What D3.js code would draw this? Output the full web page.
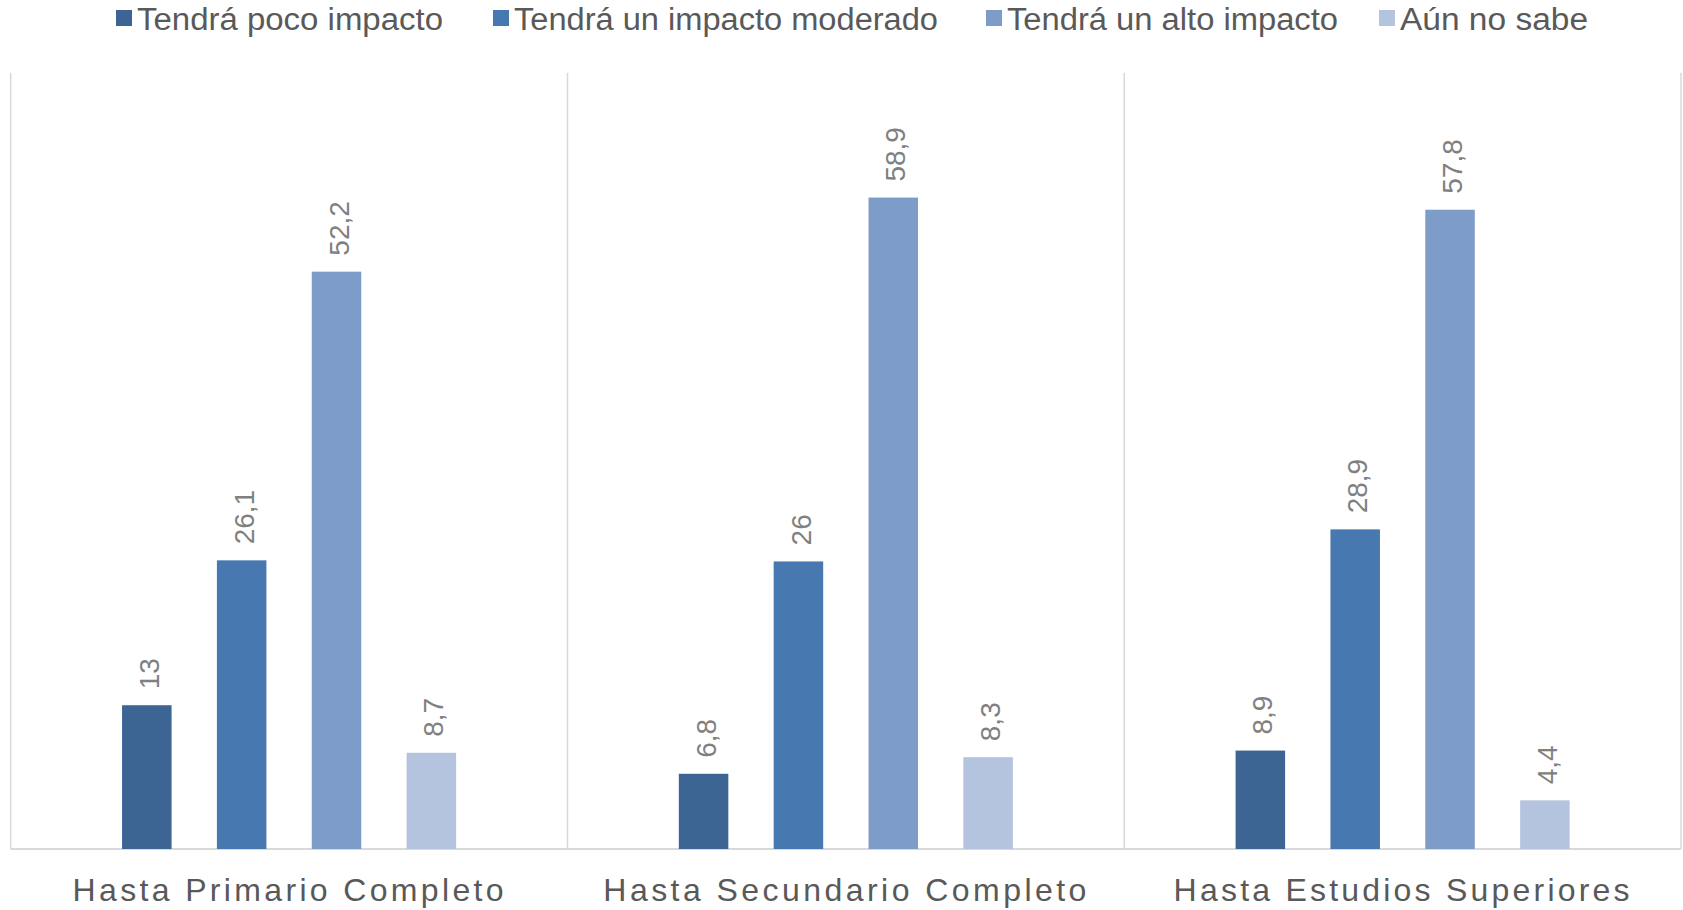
<!DOCTYPE html>
<html>
<head>
<meta charset="utf-8">
<script src="https://cdn.jsdelivr.net/npm/d3@7"></script>
<style>
  html, body { margin: 0; padding: 0; background: #ffffff; }
  svg { display: block; }
  text { font-family: "Liberation Sans", Arial, Helvetica, sans-serif; }
</style>
</head>
<body>
<svg id="chart" width="1683" height="910"></svg>
<script>
// ---- data ----
const categories = ["Hasta Primario Completo", "Hasta Secundario Completo", "Hasta Estudios Superiores"];
const seriesNames = ["Tendrá poco impacto", "Tendrá un impacto moderado", "Tendrá un alto impacto", "Aún no sabe"];
const poco      = [13, 6.8, 8.9];
const moderado  = [26.1, 26, 28.9];
const alto      = [52.2, 58.9, 57.8];
const noSabe    = [8.7, 8.3, 4.4];
const seriesValues = [poco, moderado, alto, noSabe];
const seriesColors = ["#3d6594", "#4878b0", "#7e9cc8", "#b4c3de"];
const yMax = 70;

// ---- layout ----
const svg = d3.select("#chart");
const plot = { left: 10.7, right: 1681, top: 74.8, bottom: 849 };

const x0 = d3.scaleBand().domain(categories).range([plot.left, plot.right]).padding(0);
const x1 = d3.scaleBand().domain(seriesNames).range([0, x0.bandwidth()])
  .paddingInner(0.478).paddingOuter(1.174);
const y = d3.scaleLinear().domain([0, yMax]).range([plot.bottom, plot.top]);

const fmt = v => String(v).replace(".", ",");

// vertical separators (category boundaries)
const bounds = categories.map(c => x0(c)).concat([x0(categories[categories.length - 1]) + x0.bandwidth()]);
svg.append("g").selectAll("line").data(bounds).join("line")
  .attr("x1", d => d).attr("x2", d => d)
  .attr("y1", y(yMax) - 2).attr("y2", plot.bottom)
  .attr("stroke", "#d9d9d9").attr("stroke-width", 1.5);

// baseline
svg.append("line")
  .attr("x1", plot.left).attr("x2", plot.right)
  .attr("y1", plot.bottom).attr("y2", plot.bottom)
  .attr("stroke", "#d9d9d9").attr("stroke-width", 2);

// bars
const rows = [];
categories.forEach((c, i) => {
  seriesNames.forEach((s, j) => {
    rows.push({ cat: c, ser: s, val: seriesValues[j][i], color: seriesColors[j] });
  });
});

const g = svg.append("g");
g.selectAll("rect").data(rows).join("rect")
  .attr("x", d => x0(d.cat) + x1(d.ser))
  .attr("y", d => y(d.val))
  .attr("width", x1.bandwidth())
  .attr("height", d => y(0) - y(d.val))
  .attr("fill", d => d.color);

// data labels (rotated)
g.selectAll("text.lbl").data(rows).join("text")
  .attr("class", "lbl")
  .attr("transform", d => `translate(${x0(d.cat) + x1(d.ser) + x1.bandwidth() / 2 + 2},${y(d.val) - 16}) rotate(-90)`)
  .attr("dy", "0.36em")
  .attr("text-anchor", "start")
  .attr("font-size", 28)
  .attr("fill", "#808080")
  .text(d => fmt(d.val));

// category labels
const catWidths = [431, 483, 456];
svg.append("g").selectAll("text").data(categories).join("text")
  .attr("x", d => x0(d) + x0.bandwidth() / 2 - 1)
  .attr("y", 901)
  .attr("text-anchor", "middle")
  .attr("font-size", 32)
  .attr("fill", "#595959")
  .attr("textLength", (d, i) => catWidths[i])
  .attr("lengthAdjust", "spacing")
  .text(d => d);

// legend
const legendX = [116, 493, 986, 1379];
const legendW = [306, 424, 331, 188];
const lg = svg.append("g").selectAll("g").data(seriesNames).join("g")
  .attr("transform", (d, i) => `translate(${legendX[i]},0)`);
lg.append("rect")
  .attr("x", 0).attr("y", 10).attr("width", 16).attr("height", 16)
  .attr("fill", (d, i) => seriesColors[i]);
lg.append("text")
  .attr("x", 21).attr("y", 30)
  .attr("font-size", 31)
  .attr("fill", "#595959")
  .attr("textLength", (d, i) => legendW[i])
  .attr("lengthAdjust", "spacingAndGlyphs")
  .text(d => d);
</script>
</body>
</html>
